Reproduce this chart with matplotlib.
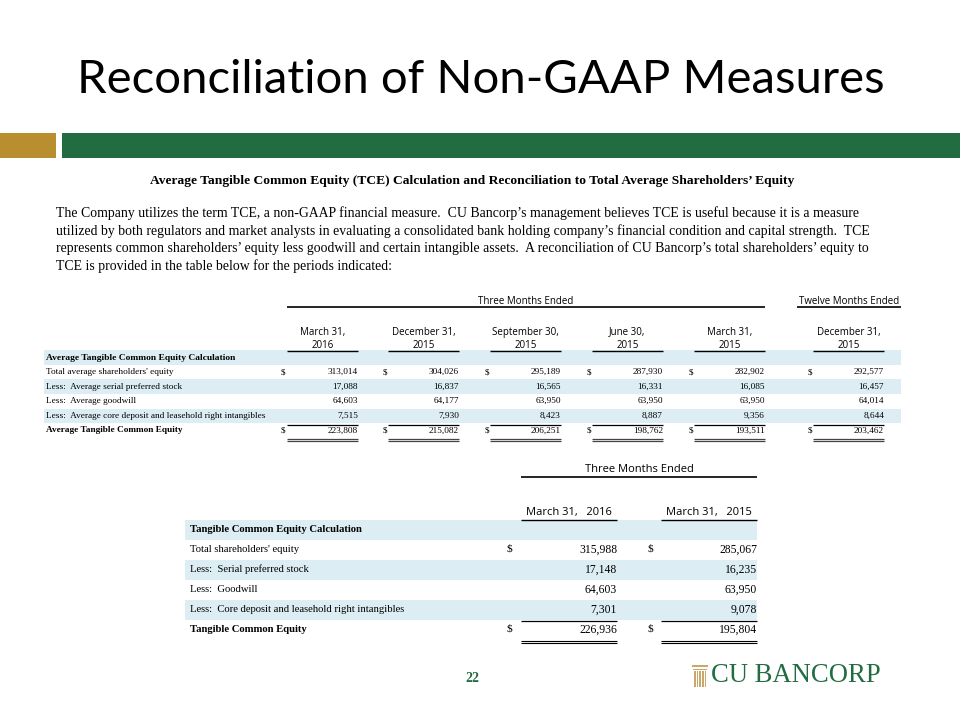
import matplotlib
matplotlib.use("Agg")
import matplotlib.pyplot as plt
from matplotlib.patches import Rectangle

# ---------------- data ----------------
title = "Reconciliation of Non-GAAP Measures"
subtitle = "Average Tangible Common Equity (TCE) Calculation and Reconciliation to Total Average Shareholders\u2019 Equity"
paragraph = [
    "The Company utilizes the term TCE, a non-GAAP financial measure.  CU Bancorp\u2019s management believes TCE is useful because it is a measure",
    "utilized by both regulators and market analysts in evaluating a consolidated bank holding company\u2019s financial condition and capital strength.  TCE",
    "represents common shareholders\u2019 equity less goodwill and certain intangible assets.  A reconciliation of CU Bancorp\u2019s total shareholders\u2019 equity to",
    "TCE is provided in the table below for the periods indicated:",
]

t1_periods_top = ["March 31,", "December 31,", "September 30,", "June 30,", "March 31,", "December 31,"]
t1_periods_bot = ["2016", "2015", "2015", "2015", "2015", "2015"]
t1_section = "Average Tangible Common Equity Calculation"
t1_rows = [
    "Total average shareholders' equity",
    "Less:  Average serial preferred stock",
    "Less:  Average goodwill",
    "Less:  Average core deposit and leasehold right intangibles",
    "Average Tangible Common Equity",
]
t1_total_equity = [313014, 304026, 295189, 287930, 282902, 292577]
t1_preferred = [17088, 16837, 16565, 16331, 16085, 16457]
t1_goodwill = [64603, 64177, 63950, 63950, 63950, 64014]
t1_intangibles = [7515, 7930, 8423, 8887, 9356, 8644]
t1_tce = [223808, 215082, 206251, 198762, 193511, 203462]

t2_periods = ["March 31,   2016", "March 31,   2015"]
t2_section = "Tangible Common Equity Calculation"
t2_rows = [
    "Total shareholders' equity",
    "Less:  Serial preferred stock",
    "Less:  Goodwill",
    "Less:  Core deposit and leasehold right intangibles",
    "Tangible Common Equity",
]
t2_total_equity = [315988, 285067]
t2_preferred = [17148, 16235]
t2_goodwill = [64603, 63950]
t2_intangibles = [7301, 9078]
t2_tce = [226936, 195804]

page_number = "22"
logo_text = "CU BANCORP"

# ---------------- style ----------------
GREEN = "#226C42"
GOLD = "#B98E2E"
SHADE = "#DCEEF3"
SERIF = "Liberation Serif"
SANS = "Open Sans"

fig = plt.figure(figsize=(9.6, 7.2), dpi=100)
ax = fig.add_axes([0, 0, 1, 1])
ax.set_xlim(0, 960)
ax.set_ylim(720, 0)
ax.axis("off")


def hline(x0, x1, y, lw=1.0, color="black"):
    ax.plot([x0, x1], [y, y], color=color, lw=lw, solid_capstyle="butt")


def fmt(v):
    return f"{v:,}"


# title and bars
ax.text(481, 80, title, ha="center", va="center", fontsize=34, family="Lato", color="black")
ax.add_patch(Rectangle((0, 133), 56, 25, facecolor=GOLD, edgecolor="none"))
ax.add_patch(Rectangle((62, 133), 898, 25, facecolor=GREEN, edgecolor="none"))

ax.text(472, 181, subtitle, ha="center", va="center", fontsize=9.7, family=SERIF, weight="bold")
for i, line in enumerate(paragraph):
    ax.text(56, 213 + i * 17.8, line, ha="left", va="center", fontsize=9.95, family=SERIF)

# ---------------- table 1 ----------------
t1_left = [287, 388, 490, 592, 694, 813]
t1_right = [358, 459, 561, 663, 765, 884]
t1_dollar = [283, 385, 487, 589, 691, 810]
ax.text(526, 301, "Three Months Ended", ha="center", va="center", fontsize=7, family=SANS)
hline(287, 765, 307, lw=1.2)
ax.text(849, 301, "Twelve Months Ended", ha="center", va="center", fontsize=7, family=SANS)
hline(797, 901, 307, lw=1.2)
for j in range(6):
    cx = (t1_left[j] + t1_right[j]) / 2
    ax.text(cx, 332, t1_periods_top[j], ha="center", va="center", fontsize=7, family=SANS)
    ax.text(cx, 345, t1_periods_bot[j], ha="center", va="center", fontsize=7, family=SANS)
    hline(t1_left[j], t1_right[j], 351, lw=1.0)

row_h1 = 14.6
y0 = 357.5
for k in [0, 2, 4]:
    ax.add_patch(Rectangle((44, y0 + k * row_h1 - row_h1 / 2), 857, row_h1,
                           facecolor=SHADE, edgecolor="none", zorder=0))
ax.text(46, y0, t1_section, ha="left", va="center", fontsize=6.8, family=SERIF, weight="bold")
t1_values = [t1_total_equity, t1_preferred, t1_goodwill, t1_intangibles, t1_tce]
for i, (lab, vals) in enumerate(zip(t1_rows, t1_values)):
    y = y0 + (i + 1) * row_h1
    bold = "bold" if i == 4 else "normal"
    ax.text(46, y, lab, ha="left", va="center", fontsize=6.7, family=SERIF, weight=bold)
    for j in range(6):
        ax.text(t1_right[j], y, fmt(vals[j]), ha="right", va="center", fontsize=6.7, family=SERIF)
        if i in (0, 4):
            ax.text(t1_dollar[j], y, "$", ha="center", va="center", fontsize=6.7, family=SERIF)
for j in range(6):
    hline(t1_left[j], t1_right[j], 424.5, lw=0.9)
    hline(t1_left[j], t1_right[j], 439.2, lw=0.9, color="#444444")
    hline(t1_left[j], t1_right[j], 441.4, lw=0.9, color="#444444")

# ---------------- table 2 ----------------
t2_left = [521, 661]
t2_right = [617, 757]
t2_dollar = [509, 650]
ax.text(639, 469, "Three Months Ended", ha="center", va="center", fontsize=8, family=SANS)
hline(521, 757, 477, lw=1.2)
for j in range(2):
    cx = (t2_left[j] + t2_right[j]) / 2
    ax.text(cx, 513, t2_periods[j], ha="center", va="center", fontsize=8, family=SANS)
    hline(t2_left[j], t2_right[j], 519.5, lw=1.0)

row_h2 = 20
y2 = 529.5
for k in [0, 2, 4]:
    ax.add_patch(Rectangle((185, y2 + k * row_h2 - row_h2 / 2), 572, row_h2,
                           facecolor=SHADE, edgecolor="none", zorder=0))
ax.text(190, y2, t2_section, ha="left", va="center", fontsize=7.7, family=SERIF, weight="bold")
t2_values = [t2_total_equity, t2_preferred, t2_goodwill, t2_intangibles, t2_tce]
for i, (lab, vals) in enumerate(zip(t2_rows, t2_values)):
    y = y2 + (i + 1) * row_h2
    bold = "bold" if i == 4 else "normal"
    ax.text(190, y, lab, ha="left", va="center", fontsize=7.7, family=SERIF, weight=bold)
    for j in range(2):
        ax.text(t2_right[j], y, fmt(vals[j]), ha="right", va="center", fontsize=8.4, family=SERIF)
        if i in (0, 4):
            ax.text(t2_dollar[j], y, "$", ha="center", va="center", fontsize=8.2, family=SERIF)
for j in range(2):
    hline(t2_left[j], t2_right[j], 620.5, lw=0.9)
    hline(t2_left[j], t2_right[j], 640.8, lw=0.8)
    hline(t2_left[j], t2_right[j], 643.2, lw=0.8)

# ---------------- footer ----------------
ax.text(472, 678, page_number, ha="center", va="center", fontsize=10, family=SERIF,
        weight="bold", color=GREEN)
ax.text(711, 676, logo_text, ha="left", va="center", fontsize=19.2, family=SERIF, color=GREEN)
# column icon
ax.add_patch(Rectangle((692, 665), 16, 2.2, facecolor="#C9A96A", edgecolor="none"))
ax.add_patch(Rectangle((693, 668.5), 14, 1.6, facecolor="#C9A96A", edgecolor="none"))
for xi in range(5):
    ax.add_patch(Rectangle((694 + xi * 2.7, 671), 1.5, 16, facecolor="#C9A96A", edgecolor="none"))

fig.savefig("out.png", dpi=100)
